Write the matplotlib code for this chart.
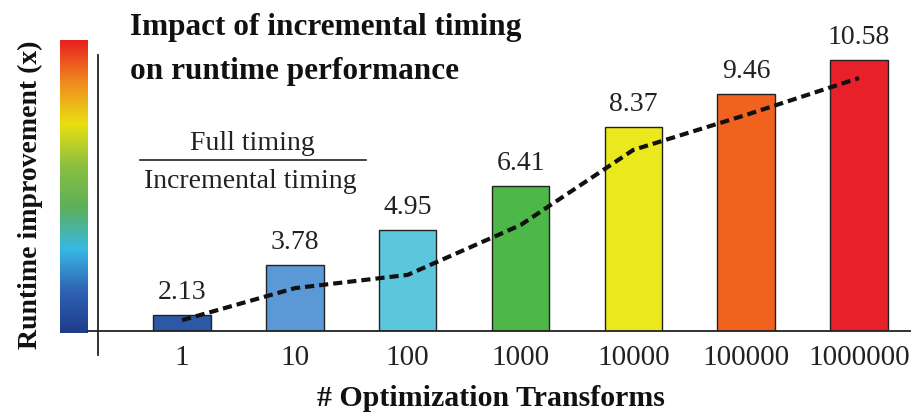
import numpy as np
import matplotlib.pyplot as plt
from matplotlib.colors import LinearSegmentedColormap
from matplotlib.lines import Line2D

plt.rcParams['font.family'] = ['Liberation Serif', 'DejaVu Serif']

transforms = ["1", "10", "100", "1000", "10000", "100000", "1000000"]
improvement = [2.13, 3.78, 4.95, 6.41, 8.37, 9.46, 10.58]
trend = [1.96, 3.02, 3.46, 5.11, 7.60, 8.76, 9.98]
bar_colors = ["#2d58a6", "#5b98d6", "#5cc6dc", "#4db848", "#ece81e", "#f0621e", "#e8202a"]
grad_colors = ["#1f3c8c", "#2f63b4", "#38b8e4", "#5cb058", "#8cc040", "#e8e010", "#f08a1e", "#e82020"]

fig = plt.figure(figsize=(9.12, 4.16), dpi=100)
ax = fig.add_axes([0.1075, 0.2043, 0.8925, 0.6995])

x = np.arange(len(transforms))
ax.bar(x, improvement, width=0.51, color=bar_colors, edgecolor="#222222", linewidth=1.0, zorder=2)
for xi, v in zip(x, improvement):
    ax.annotate(f"{v:.2f}", (xi, v), xytext=(0, 7), textcoords="offset points",
                ha="center", va="bottom", fontsize=20, color="#222222")
ax.plot(x, trend, ls=(0, (2.2, 1.2)), color="#111111", lw=3, zorder=3)

ax.set_xlim(-0.745, 6.47)
ax.set_ylim(1.6, 11.24)
ax.set_xticks(x)
ax.set_xticklabels(transforms, fontsize=21, color="#222222")
ax.tick_params(axis="x", length=0, pad=10)
ax.set_yticks([])
for s in ax.spines.values():
    s.set_visible(False)

# axis lines
fig.add_artist(Line2D([98 / 912, 98 / 912], [1 - 55 / 416, 1 - 355 / 416], color="#222222", lw=1.3))
fig.add_artist(Line2D([88 / 912, 1.0], [1 - 331 / 416, 1 - 331 / 416], color="#222222", lw=1.3))

# colour bar on the left
cmap = LinearSegmentedColormap.from_list("grad", grad_colors)
cax = fig.add_axes([60 / 912, 1 - 333 / 416, 28 / 912, 293 / 416])
cax.imshow(np.linspace(1, 0, 256).reshape(-1, 1), aspect="auto", cmap=cmap)
cax.axis("off")

fig.text(30 / 912, 1 - 195 / 416, "Runtime improvement (x)", rotation=90, ha="center", va="center",
         fontsize=20, fontweight="bold", color="#111111")
fig.text(491 / 912, 1 - 399 / 416, "# Optimization Transforms", ha="center", va="center",
         fontsize=21.5, fontweight="bold", color="#111111")

fig.text(130 / 912, 1 - 28 / 416, "Impact of incremental timing", ha="left", va="center",
         fontsize=22.5, fontweight="bold", color="#111111")
fig.text(130 / 912, 1 - 72 / 416, "on runtime performance", ha="left", va="center",
         fontsize=22.5, fontweight="bold", color="#111111")

fig.text(252 / 912, 1 - 143 / 416, "Full timing", ha="center", va="center", fontsize=20, color="#222222")
fig.add_artist(Line2D([140 / 912, 366 / 912], [1 - 160 / 416, 1 - 160 / 416], color="#222222", lw=1.2))
fig.text(250 / 912, 1 - 181 / 416, "Incremental timing", ha="center", va="center", fontsize=20, color="#222222")

fig.savefig("out.png", dpi=100)
